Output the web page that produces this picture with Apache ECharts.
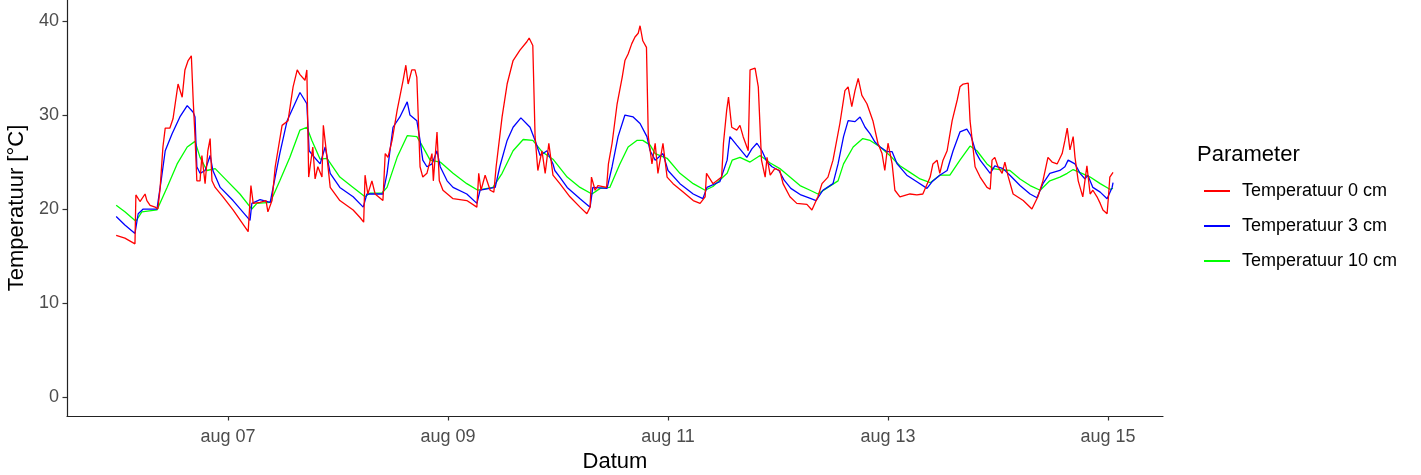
<!DOCTYPE html>
<html>
<head>
<meta charset="utf-8">
<script src="https://cdn.jsdelivr.net/npm/echarts@6/dist/echarts.min.js"></script>
<style>
html,body{margin:0;padding:0;background:#fff;}
#chart{width:1421px;height:475px;}
</style>
</head>
<body>
<div id="chart"></div>
<script>
// Time in hours since aug 06 00:00
var tickHours = [24, 72, 120, 168, 216];
var tickLabels = ['aug 07', 'aug 09', 'aug 11', 'aug 13', 'aug 15'];
var yTicks = [0, 10, 20, 30, 40];
var seriesNames = ['Temperatuur 0 cm', 'Temperatuur 3 cm', 'Temperatuur 10 cm'];

var redTimes = [-0.4,1.5,3.7,3.9,4.8,5.9,6.3,7.0,8.1,8.7,9.2,9.8,10.3,11.3,12.0,13.1,14.0,14.6,15.3,16.0,16.4,16.8,17.2,17.9,18.3,19.0,19.6,20.1,20.5,21.2,22.9,25.1,28.4,29.0,29.5,31.0,32.3,32.7,33.6,34.3,35.8,37.1,38.2,39.1,39.7,40.8,41.2,41.6,42.5,43.0,43.6,44.5,44.8,45.6,46.3,48.4,51.3,52.8,53.6,53.9,54.5,55.4,56.1,57.8,58.3,58.9,59.8,60.9,62.2,62.8,63.3,64.1,64.8,65.2,65.9,66.5,67.4,68.5,68.8,69.6,70.1,70.9,73.1,76.1,78.3,78.7,79.2,80.1,81.2,82.0,82.5,83.8,84.9,86.2,87.7,89.2,89.7,90.5,91.0,91.6,92.5,93.2,94.0,94.9,96.4,98.6,100.8,102.3,103.0,103.3,104.1,104.7,106.6,107.0,107.8,108.9,110.0,110.6,111.3,112.1,112.8,113.5,113.9,114.5,115.3,115.7,116.5,117.2,117.8,118.9,119.8,121.1,123.3,125.5,127.0,128.1,128.4,129.8,131.7,132.1,132.8,133.2,133.9,135.0,135.7,136.4,137.5,137.9,139.0,139.7,140.1,140.4,141.2,141.6,142.3,143.3,144.4,145.1,146.6,148.1,150.3,151.4,152.7,153.6,154.9,156.0,157.5,158.6,159.3,160.1,160.8,161.5,162.3,163.4,164.7,165.8,166.7,167.3,168.0,168.9,169.5,170.6,172.8,174.3,175.6,177.2,177.8,178.7,179.3,180.0,180.9,182.0,183.1,183.7,184.4,185.5,185.9,187.0,188.1,189.6,190.3,190.7,191.3,192.0,192.9,193.5,194.2,195.3,197.5,199.4,200.7,201.8,202.9,203.8,204.9,206.0,206.6,207.1,207.7,208.4,208.8,209.5,210.5,211.4,212.1,212.7,213.6,214.3,214.9,215.8,216.1,216.4,217.1];
var redValues = [17.2,16.9,16.3,21.5,20.8,21.6,20.9,20.4,20.2,20.0,22.3,26.6,28.6,28.6,29.6,33.3,31.9,34.8,35.8,36.3,31.6,27.7,23.0,23.0,25.7,22.7,26.2,27.5,23.0,22.3,21.3,19.9,17.6,22.5,20.6,20.7,20.9,19.7,20.9,24.5,28.9,29.4,33.0,34.8,34.3,33.7,34.8,23.4,26.6,23.2,24.5,23.4,28.9,25.5,22.3,20.9,19.9,19.1,18.6,23.6,21.6,23.0,21.6,20.9,25.9,25.5,27.3,30.5,33.7,35.3,33.3,34.8,34.8,34.0,24.5,23.4,23.8,25.9,23.0,28.2,23.0,22.0,21.1,20.9,20.2,23.8,22.0,23.6,22.0,21.8,24.5,29.8,33.3,35.8,36.9,37.8,38.2,37.4,27.7,24.1,26.2,23.8,27.0,23.6,22.7,21.3,20.2,19.5,20.2,23.4,22.0,22.5,22.3,24.8,27.0,31.2,34.0,35.8,36.5,37.6,38.3,38.7,39.5,37.9,37.2,27.7,24.8,27.0,23.8,27.0,23.4,22.7,21.8,20.9,20.6,21.3,23.8,22.7,23.4,27.0,30.5,31.9,28.7,28.4,28.9,27.7,26.2,34.8,35.0,33.0,33.0,25.2,23.4,25.5,23.6,24.3,24.1,22.7,21.3,20.6,20.5,19.9,21.3,22.7,23.4,25.2,29.1,32.6,33.0,30.9,32.6,33.9,32.1,31.2,29.4,27.0,25.9,24.1,27.0,24.8,22.0,21.3,21.6,21.5,21.6,23.4,24.8,25.2,23.8,25.2,26.2,29.4,31.6,33.0,33.3,33.4,29.4,24.5,23.4,22.3,22.1,25.2,25.5,24.5,23.8,25.0,23.5,21.6,20.9,20.0,21.3,23.0,25.5,25.0,24.8,25.9,27.3,28.6,26.3,27.7,25.5,23.0,21.3,24.6,21.6,22.0,21.3,20.6,19.9,19.5,21.3,23.4,23.9];

var blueTimes = [-0.4,1.5,3.7,4.4,5.5,8.5,9.4,10.3,11.8,13.5,15.1,16.4,16.8,17.2,17.9,19.0,20.1,20.7,22.3,25.1,28.8,29.2,31.0,33.2,35.3,36.9,39.7,41.2,41.7,42.5,44.1,45.2,46.3,48.4,51.3,53.5,54.3,57.8,58.7,60.0,61.5,63.1,63.7,65.2,65.9,66.5,67.4,68.5,69.6,70.3,71.8,73.1,76.1,78.3,79.0,82.3,83.3,84.9,86.2,87.9,89.9,91.0,92.1,93.6,94.9,95.3,96.4,98.0,100.8,103.0,103.6,106.7,107.8,109.1,110.6,112.4,113.9,115.4,116.1,117.2,118.9,120.0,122.6,125.5,127.6,128.5,131.3,132.9,133.5,135.0,137.2,138.3,139.4,140.5,141.6,142.7,144.2,145.3,146.8,149.0,151.2,152.3,153.8,156.0,157.1,158.3,159.3,160.8,161.9,163.0,164.1,165.2,166.3,167.8,168.9,170.0,172.1,174.3,176.5,177.6,179.3,180.9,182.2,183.7,185.2,186.1,187.2,188.1,190.3,191.3,193.1,194.6,196.8,199.0,200.5,201.8,203.3,205.5,206.6,207.3,208.8,209.9,211.0,211.6,212.7,214.3,215.8,216.9,217.1];
var blueValues = [19.2,18.3,17.4,19.5,20.0,20.0,23.0,26.2,28.0,29.8,31.0,30.3,29.8,24.5,23.8,24.1,25.7,24.1,22.3,20.9,18.8,20.6,21.0,20.7,25.9,29.4,32.4,31.2,26.2,25.7,24.8,26.6,23.8,22.3,21.3,20.2,21.6,21.6,23.8,28.7,29.8,31.4,30.0,29.4,27.3,25.2,24.5,24.8,26.2,24.5,23.0,22.3,21.6,20.6,22.0,22.3,24.5,27.3,28.7,29.7,28.7,27.3,25.7,26.2,24.8,24.1,23.4,22.3,21.1,20.2,22.3,22.2,24.5,27.7,30.0,29.8,29.1,27.7,26.2,25.2,25.9,24.1,22.7,21.6,21.1,22.3,22.9,25.2,27.7,26.8,25.5,26.4,27.0,26.2,25.0,24.5,24.1,23.1,22.2,21.5,21.1,20.9,22.0,22.7,24.8,27.7,29.4,29.3,29.8,28.7,28.0,27.1,26.6,26.1,26.1,24.8,23.6,22.9,22.2,22.9,23.6,24.1,26.2,28.2,28.5,27.8,26.0,25.2,23.8,24.6,24.3,23.6,22.5,21.6,21.2,22.7,23.8,24.1,24.5,25.2,24.8,23.8,23.2,23.6,22.3,21.8,21.1,22.3,22.8];

var greenTimes = [-0.4,1.5,3.9,5.2,8.5,10.7,12.9,15.1,16.8,17.9,19.4,21.2,23.8,26.6,29.2,30.3,33.2,35.3,37.5,39.7,41.2,42.3,44.1,45.6,48.4,51.3,53.9,55.0,57.6,58.7,60.9,63.1,65.2,66.3,68.1,70.3,73.1,76.1,78.5,81.8,83.8,86.2,88.4,90.5,92.5,94.9,98.0,100.8,103.4,105.2,107.3,109.5,111.3,113.2,114.5,116.1,117.2,119.8,122.6,125.5,128.1,129.8,132.9,134.0,135.7,137.9,140.1,142.3,144.4,146.6,148.8,151.0,152.7,154.9,157.1,158.3,160.4,162.5,164.1,166.3,168.4,170.6,172.8,175.0,177.2,179.3,181.5,183.7,185.9,187.4,189.6,190.9,192.4,194.6,196.8,199.0,201.2,203.3,205.5,207.1,208.4,210.3,212.1,214.3,216.4,217.1];
var greenValues = [20.4,19.7,18.7,19.7,19.9,22.3,24.8,26.6,27.2,25.5,24.1,24.3,23.0,21.6,20.0,20.6,20.7,23.0,25.5,28.4,28.7,27.3,25.3,25.4,23.4,22.3,21.3,21.7,21.7,22.3,25.5,27.8,27.7,26.8,25.2,25.0,23.8,22.7,22.0,22.3,23.8,26.2,27.4,27.3,26.1,25.3,23.4,22.3,21.6,22.2,22.3,24.8,26.6,27.3,27.3,26.8,25.9,25.4,23.8,22.7,22.0,22.4,23.8,25.2,25.5,25.0,25.7,24.9,24.3,23.4,22.5,22.0,21.6,22.3,23.0,24.8,26.6,27.5,27.3,26.6,25.7,24.6,23.9,23.2,22.8,23.6,23.6,25.2,26.7,26.2,24.8,24.3,24.2,24.1,23.2,22.5,22.0,23.0,23.4,23.8,24.2,23.8,23.4,22.7,22.1,22.2];

var seriesColors = ['#ff0000', '#0000ff', '#00ff00'];

function zip(ts, vs) {
  var out = [];
  for (var i = 0; i < ts.length; i++) out.push([ts[i], vs[i]]);
  return out;
}

var chart = echarts.init(document.getElementById('chart'), null, {renderer: 'canvas'});
var font = 'Liberation Sans, Arial, sans-serif';
var dataSets = [zip(redTimes, redValues), zip(blueTimes, blueValues), zip(greenTimes, greenValues)];

chart.setOption({
  animation: false,
  backgroundColor: '#ffffff',
  title: {
    text: 'Parameter',
    left: 1190,
    top: 144,
    padding: [0, 0, 0, 7],
    textStyle: {fontFamily: font, fontSize: 22, fontWeight: 'normal', color: '#000'}
  },
  legend: {
    orient: 'vertical',
    left: 1199,
    top: 177,
    itemWidth: 26,
    itemHeight: 2,
    itemGap: 17,
    icon: 'rect',
    data: seriesNames,
    textStyle: {fontFamily: font, fontSize: 18, color: '#000', padding: [0, 0, 0, 7]}
  },
  grid: {left: 67, right: 258, top: 0, bottom: 59, containLabel: false, outerBoundsMode: 'none'},
  xAxis: {
    type: 'value',
    min: -11.13,
    max: 228.0,
    name: 'Datum',
    nameLocation: 'middle',
    nameGap: 34,
    nameTextStyle: {fontFamily: font, fontSize: 22, color: '#000'},
    splitLine: {show: false},
    axisLine: {show: true, onZero: false, lineStyle: {color: '#222', width: 1.2}},
    axisTick: {show: true, length: 4.5, customValues: tickHours, lineStyle: {color: '#333', width: 1.2}},
    axisLabel: {
      customValues: tickHours,
      margin: 12,
      fontFamily: font, fontSize: 18, color: '#4d4d4d',
      formatter: function (v) {
        var i = tickHours.indexOf(v);
        return i >= 0 ? tickLabels[i] : '';
      }
    }
  },
  yAxis: {
    type: 'value',
    min: -2.02,
    max: 42.24,
    name: 'Temperatuur [°C]',
    nameLocation: 'middle',
    nameGap: 32,
    nameTextStyle: {fontFamily: font, fontSize: 22, color: '#000'},
    splitLine: {show: false},
    axisLine: {show: true, onZero: false, lineStyle: {color: '#222', width: 1.2}},
    axisTick: {show: true, length: 4.5, customValues: yTicks, lineStyle: {color: '#333', width: 1.2}},
    axisLabel: {customValues: yTicks, margin: 8, fontFamily: font, fontSize: 18, color: '#4d4d4d'}
  },
  series: seriesNames.map(function (n, i) {
    return {
      name: n,
      type: 'line',
      data: dataSets[i],
      showSymbol: false,
      symbol: 'none',
      color: seriesColors[i],
      lineStyle: {color: seriesColors[i], width: 1.3},
      z: 3 - i
    };
  })
});
</script>
</body>
</html>
